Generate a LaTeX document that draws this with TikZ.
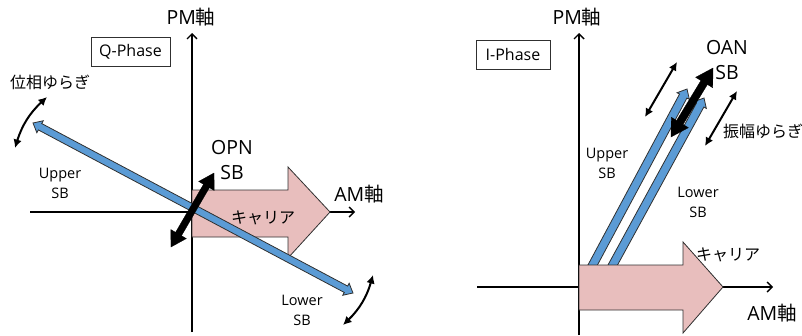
\documentclass[tikz,border=0pt]{standalone}
\usepackage{fontspec}
\setmainfont{Open Sans}
\newfontfamily\jpfont{Noto Sans CJK JP}
\usetikzlibrary{calc,arrows.meta}
\definecolor{sbblue}{HTML}{5B9BD5}
\definecolor{carpink}{HTML}{E8BEBD}
\definecolor{outl}{HTML}{303030}
\newcommand\J[1]{{\jpfont #1}}
% double headed fat arrow: style, A, B, half shaft, half head, head length
\newcommand\dblfat[6]{%
\path[#1] let \p1=($(#3)-(#2)$), \n1={atan2(\y1,\x1)} in
 (#2) -- ($(#2)+(\n1:#6)+(\n1+90:#5)$) -- ($(#2)+(\n1:#6)+(\n1+90:#4)$)
 -- ($(#3)+(\n1+180:#6)+(\n1+90:#4)$) -- ($(#3)+(\n1+180:#6)+(\n1+90:#5)$)
 -- (#3) -- ($(#3)+(\n1+180:#6)+(\n1-90:#5)$) -- ($(#3)+(\n1+180:#6)+(\n1-90:#4)$)
 -- ($(#2)+(\n1:#6)+(\n1-90:#4)$) -- ($(#2)+(\n1:#6)+(\n1-90:#5)$) -- cycle;}
% single headed fat arrow
\newcommand\sglfat[6]{%
\path[#1] let \p1=($(#3)-(#2)$), \n1={atan2(\y1,\x1)} in
 ($(#2)+(\n1+90:#4)$) -- ($(#3)+(\n1+180:#6)+(\n1+90:#4)$) -- ($(#3)+(\n1+180:#6)+(\n1+90:#5)$)
 -- (#3) -- ($(#3)+(\n1+180:#6)+(\n1-90:#5)$) -- ($(#3)+(\n1+180:#6)+(\n1-90:#4)$)
 -- ($(#2)+(\n1-90:#4)$) -- cycle;}
\tikzset{
  axis/.style={line width=1.4pt, -{Straight Barb[length=5pt,width=10pt,line width=1.4pt]}},
  sbarrow/.style={fill=sbblue, draw=outl, line width=0.8pt, line join=miter},
  blkarrow/.style={fill=black, draw=black, line width=0.3pt},
  carrier/.style={fill=carpink, draw=outl, line width=0.8pt},
  fluct/.style={line width=2pt, {Latex[length=8.5pt,width=8.5pt]}-{Latex[length=8.5pt,width=8.5pt]}},
  big/.style={font=\fontsize{19.5}{25}\selectfont, align=center},
  mid/.style={font=\fontsize{16}{20}\selectfont, align=center},
  small/.style={font=\fontsize{14.5}{20}\selectfont, align=center},
  phasebox/.style={draw=outl, line width=0.8pt, minimum height=29pt, inner sep=0pt, font=\fontsize{16}{18}\selectfont},
}
\begin{document}
\begin{tikzpicture}[x=1pt,y=-1pt]
\useasboundingbox (0,0) rectangle (802,335);
% ================= left panel (Q-Phase)
\coordinate (Lo) at (192,212);
\coordinate (Lvb) at (192,332);
\coordinate (Lvt) at (192,33);
\coordinate (Lhl) at (30,212);
\coordinate (Lhr) at (355,212);
\draw[axis] (Lhl) -- (Lhr);
\draw[axis] (Lvb) -- (Lvt);
\draw[carrier] (192,190) -- (288,190) -- (288,167) -- (330,212) -- (288,258) -- (288,237) -- (192,237) -- cycle;
\coordinate (usbL) at (33,123);
\coordinate (lsbL) at (353,293);
\dblfat{sbarrow}{usbL}{lsbL}{3.6pt}{6.8pt}{8pt}
\coordinate (opnA) at (214,173);
\coordinate (opnB) at (171,247);
\dblfat{blkarrow}{opnA}{opnB}{3.4pt}{9pt}{15pt}
\coordinate (fl1a) at (47,97);
\coordinate (fl1b) at (15,148);
\draw[fluct] (fl1a) to[bend right=15] (fl1b);
\coordinate (fl2a) at (373,275);
\coordinate (fl2b) at (343,325);
\draw[fluct] (fl2a) to[bend left=15] (fl2b);
\node[big] (pmL) at (191,17) {PM\J{軸}};
\node[big] (amL) at (359,194) {AM\J{軸}};
\node[phasebox, minimum width=79pt] (qph) at (130.5,51.5) {Q-Phase};
\node[mid] (phfl) at (50,82) {\J{位相ゆらぎ}};
\node[small] (uL) at (60,183) {Upper\\SB};
\node[small] (lL) at (302,310) {Lower\\SB};
\node[big] (opn) at (232,160) {OPN\\SB};
\node[mid] (carL) at (263,218) {\J{キャリア}};
% ================= right panel (I-Phase)
\coordinate (Rvb) at (579,335);
\coordinate (Rvt) at (579,33);
\coordinate (Rhl) at (477,287);
\coordinate (Rhr) at (773,287);
\draw[axis] (Rhl) -- (Rhr);
\draw[axis] (Rvb) -- (Rvt);
\coordinate (usbRa) at (590,270);
\coordinate (usbRb) at (687,89);
\coordinate (lsbRa) at (610,270);
\coordinate (lsbRb) at (704,98);
\sglfat{sbarrow}{usbRa}{usbRb}{4.2pt}{7pt}{8pt}
\sglfat{sbarrow}{lsbRa}{lsbRb}{4.2pt}{7pt}{8pt}
\draw[carrier] (579,265) -- (683,265) -- (683,242) -- (723,287) -- (683,333) -- (683,310) -- (579,310) -- cycle;
\coordinate (oanA) at (713,68);
\coordinate (oanB) at (671,137);
\dblfat{blkarrow}{oanA}{oanB}{3.8pt}{10pt}{17pt}
\coordinate (fl3a) at (677,62);
\coordinate (fl3b) at (645,117);
\draw[fluct] (fl3a) -- (fl3b);
\coordinate (fl4a) at (737,91);
\coordinate (fl4b) at (705,146);
\draw[fluct] (fl4a) -- (fl4b);
\node[big] (pmR) at (577,17) {PM\J{軸}};
\node[big] (amR) at (772,313) {AM\J{軸}};
\node[phasebox, minimum width=74pt] (iph) at (513,54.5) {I-Phase};
\node[mid] (amfl) at (763,131) {\J{振幅ゆらぎ}};
\node[small] (uR) at (607,163) {Upper\\SB};
\node[small] (lR) at (698,202) {Lower\\SB};
\node[big] (oan) at (727,60) {OAN\\SB};
\node[mid] (carR) at (728,255) {\J{キャリア}};
\end{tikzpicture}
\end{document}
